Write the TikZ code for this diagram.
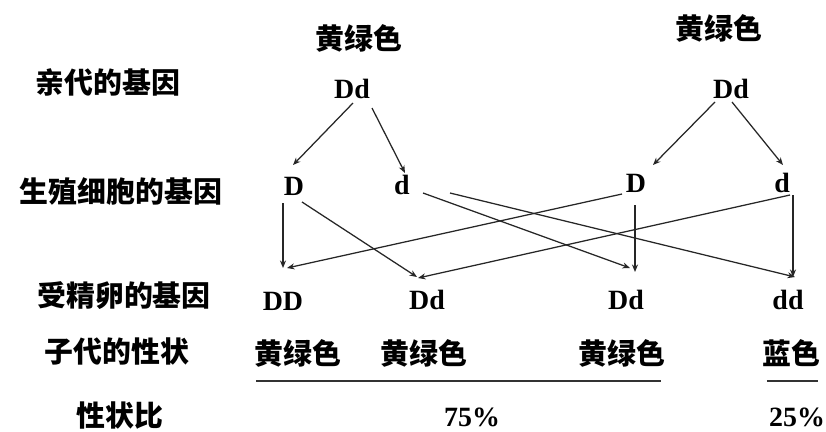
\documentclass[tikz,border=0pt]{standalone}
\usepackage{fontspec}
\setmainfont{Liberation Serif}
\newfontfamily\cjk{Noto Sans CJK SC}
\usetikzlibrary{arrows.meta,calc}
\tikzset{
  cn/.style={font=\cjk\bfseries\fontsize{29}{29}\selectfont, inner sep=0pt},
  gene/.style={font=\bfseries\fontsize{28}{28}\selectfont, inner sep=0pt},
  arr/.style={draw=black!85, line width=1.25bp, -{Stealth[length=7.5bp,width=6bp]}},
  rule/.style={draw=black!80, line width=1.5bp}
}
\begin{document}
\begin{tikzpicture}[x=1bp,y=-1bp]
\fill[white] (0,0) rectangle (826,431);
\useasboundingbox (0,0) rectangle (826,431);
% row labels
\node[cn] (l1) at (108,82) {亲代的基因};
\node[cn] (l2) at (121,191) {生殖细胞的基因};
\node[cn] (l3) at (124,296) {受精卵的基因};
\node[cn] (l4) at (117,351) {子代的性状};
\node[cn] (l5) at (120,416) {性状比};
% parents
\node[cn] (cL) at (359,38) {黄绿色};
\node[cn] (cR) at (719,28) {黄绿色};
\node[gene] (pL) at (352,89) {Dd};
\node[gene] (pR) at (731,89) {Dd};
% gametes
\node[gene] (gD1) at (294,186) {D};
\node[gene] (gd1) at (402,185) {d};
\node[gene] (gD2) at (636,183) {D};
\node[gene] (gd2) at (782,183) {d};
% offspring
\node[gene] (oDD) at (283,301) {DD};
\node[gene] (oDd1) at (427,300) {Dd};
\node[gene] (oDd2) at (626,300) {Dd};
\node[gene] (odd) at (788,300) {dd};
% phenotypes
\node[cn] (f1) at (298,353) {黄绿色};
\node[cn] (f2) at (424,353) {黄绿色};
\node[cn] (f3) at (622,353) {黄绿色};
\node[cn] (f4) at (791,353) {蓝色};
% ratios
\node[gene] (r1) at (472,417) {75\%};
\node[gene] (r2) at (797,417) {25\%};
% underlines
\draw[rule] ($(f1.south west)+(2,14)$) -- ($(f3.south east)+(-5,14)$);
\draw[rule] ($(f4.south west)+(5,14)$) -- ($(f4.south east)+(-2,14)$);
% parents to gametes
\draw[arr] ($(pL)+(1,14)$) -- ($(gD1)+(-1,-21)$);
\draw[arr] ($(pL)+(20,19)$) -- ($(gd1)+(3,-12)$);
\draw[arr] ($(pR)+(-16,13)$) -- ($(gD2)+(17,-18)$);
\draw[arr] ($(pR)+(1,13)$) -- ($(gd2)+(1,-18)$);
% gametes to zygotes
\draw[arr] ($(gD1)+(-11,17)$) -- ($(oDD)+(0,-33)$);
\draw[arr] ($(gD1)+(8,16)$) -- ($(oDd1)+(-10,-23)$);
\draw[arr] ($(gD2)+(-14,11)$) -- ($(oDD)+(4,-33)$);
\draw[arr] ($(gD2)+(-1,22)$) -- ($(oDd2)+(9,-28)$);
\draw[arr] ($(gd1)+(21,8)$) -- ($(oDd2)+(4,-32)$);
\draw[arr] ($(gd1)+(48,8)$) -- ($(odd)+(7,-23)$);
\draw[arr] ($(gd2)+(8,12)$) -- ($(oDd1)+(-9,-22)$);
\draw[arr] ($(gd2)+(11,12)$) -- ($(odd)+(5,-23)$);
\end{tikzpicture}
\end{document}
